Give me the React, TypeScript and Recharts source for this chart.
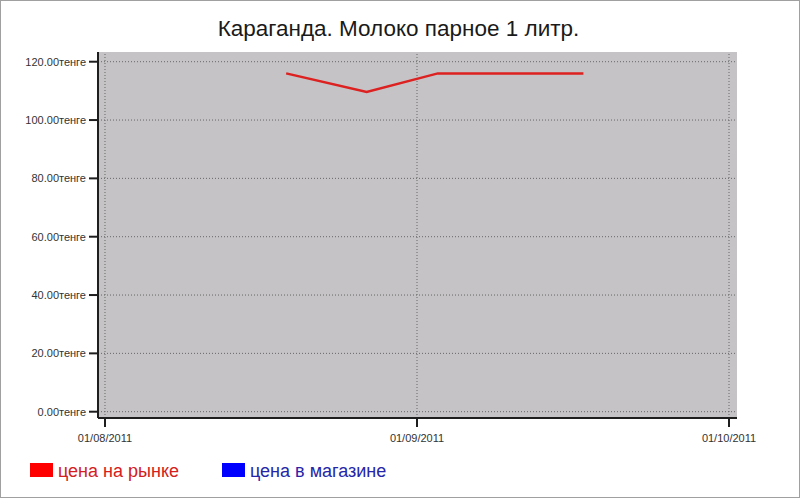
import React from 'react';
import { LineChart, Line, XAxis, YAxis, Legend, ReferenceArea, ReferenceLine } from 'recharts';

// ---- data ----
const dates = ['2011-08-19', '2011-08-27', '2011-09-03', '2011-09-10', '2011-09-17'];
const marketPrice = [116, 109.6, 116, 116, 116];
const shopPrice: (number | null)[] = [null, null, null, null, null];

const xTickDates = ['2011-08-01', '2011-09-01', '2011-10-01'];
const xTickLabels = ['01/08/2011', '01/09/2011', '01/10/2011'];
const yMajorTicks = [0, 20, 40, 60, 80, 100, 120];
const yMinorTicks = [0, 5, 10, 15, 20, 25, 30, 35, 40, 45, 50, 55, 60, 65, 70, 75, 80, 85, 90, 95, 100, 105, 110, 115, 120];

const seriesKeys = ['market', 'shop'];
const seriesNames: Record<string, string> = { market: 'цена на рынке', shop: 'цена в магазине' };
const title = 'Караганда. Молоко парное 1 литр.';

const xDomain: [number, number] = [-0.0224, 2.0256];
const yDomain: [number, number] = [-2.16, 123.33];

// month-based position: months since Aug 2011 + fraction of month
const toMonthPos = (iso: string) => {
  const [y, m, d] = iso.split('-').map(Number);
  const daysInMonth = new Date(y, m, 0).getDate();
  return (y - 2011) * 12 + (m - 8) + (d - 1) / daysInMonth;
};

const data = dates.map((d, i) => ({
  x: toMonthPos(d),
  market: marketPrice[i],
  shop: shopPrice[i],
}));
const xTicks = xTickDates.map(toMonthPos);

const FONT = '"Liberation Sans", Arial, sans-serif';
const GRID = { stroke: '#666', strokeDasharray: '1 2', strokeWidth: 1 };

const lineColors: Record<string, string> = { market: '#dd2020', shop: '#0000ff' };
const swatchColors: Record<string, string> = { market: '#ff0000', shop: '#0000ff' };
const legendTextColors: Record<string, string> = { market: '#d42020', shop: '#2626a8' };

const LegendContent = (props: any) => {
  const payload = props.payload || [];
  const lefts = [30, 222];
  const items = seriesKeys
    .map((k) => payload.find((p: any) => p.dataKey === k))
    .filter(Boolean);
  return (
    <div style={{ position: 'relative', width: 800, height: 24 }}>
      {items.map((p: any, i: number) => (
        <div key={p.dataKey} style={{ position: 'absolute', left: lefts[i], top: 0 }}>
          <div
            style={{
              position: 'absolute',
              left: 0,
              top: 3,
              width: 23,
              height: 14,
              background: swatchColors[p.dataKey] || p.color,
            }}
          />
          <div
            style={{
              position: 'absolute',
              left: 28,
              top: 2,
              whiteSpace: 'nowrap',
              fontFamily: FONT,
              fontSize: 18,
              lineHeight: '18px',
              color: legendTextColors[p.dataKey] || p.color,
            }}
          >
            {p.value}
          </div>
        </div>
      ))}
    </div>
  );
};

export default function App() {
  return (
    <div
      style={{
        position: 'absolute',
        left: 0,
        top: 0,
        width: 800,
        height: 498,
        background: '#fff',
        overflow: 'hidden',
      }}
    >
      <LineChart
        width={800}
        height={498}
        data={data}
        margin={{ top: 52, right: 63, bottom: 0, left: 0 }}
      >
        <ReferenceArea
          yAxisId="major"
          x1={xDomain[0]}
          x2={xDomain[1]}
          y1={yDomain[0]}
          y2={yDomain[1]}
          fill="#c5c3c6"
          fillOpacity={1}
          stroke="none"
          ifOverflow="hidden"
        />
        {yMajorTicks.map((v) => (
          <ReferenceLine key={`gy${v}`} yAxisId="major" y={v} {...GRID} />
        ))}
        {xTicks.map((v) => (
          <ReferenceLine key={`gx${v}`} yAxisId="major" x={v} {...GRID} />
        ))}
        <XAxis
          dataKey="x"
          type="number"
          domain={xDomain}
          ticks={xTicks}
          tickFormatter={(v: number) => xTickLabels[xTicks.indexOf(v)] ?? ''}
          height={80}
          tickSize={9}
          tickMargin={7}
          axisLine={{ stroke: '#1e1e1e', strokeWidth: 2 }}
          tickLine={{ stroke: '#1e1e1e', strokeWidth: 2 }}
          tick={{ fill: '#333', fontSize: 11, fontFamily: FONT }}
          allowDataOverflow
        />
        <YAxis
          yAxisId="major"
          type="number"
          domain={yDomain}
          ticks={yMajorTicks}
          tickFormatter={(v: number) => `${v.toFixed(2)}тенге`}
          width={98}
          tickSize={9}
          tickMargin={3}
          axisLine={{ stroke: '#1e1e1e', strokeWidth: 2 }}
          tickLine={{ stroke: '#1e1e1e', strokeWidth: 2 }}
          tick={{ fill: '#333', fontSize: 11, fontFamily: FONT }}
          allowDataOverflow
          interval={0}
        />
        <YAxis
          yAxisId="minor"
          type="number"
          domain={yDomain}
          ticks={yMinorTicks}
          width={0}
          tickSize={6}
          tick={false}
          axisLine={false}
          tickLine={{ stroke: '#1e1e1e', strokeWidth: 1.5 }}
          allowDataOverflow
          interval={0}
        />
        {seriesKeys.map((k) => (
          <Line
            key={k}
            yAxisId="major"
            dataKey={k}
            name={seriesNames[k]}
            stroke={lineColors[k]}
            strokeWidth={2.5}
            dot={false}
            activeDot={false}
            isAnimationActive={false}
          />
        ))}
        <Legend
          layout="horizontal"
          verticalAlign="middle"
          align="center"
          wrapperStyle={{ top: 460, left: 0, width: 800 }}
          content={<LegendContent />}
        />
      </LineChart>
      <div
        style={{
          position: 'absolute',
          left: 0,
          top: 18,
          width: 797,
          textAlign: 'center',
          fontFamily: FONT,
          fontSize: 22.5,
          lineHeight: '22.5px',
          color: '#1a1a1a',
          whiteSpace: 'nowrap',
        }}
      >
        {title}
      </div>
      <div
        style={{
          position: 'absolute',
          left: 0,
          top: 0,
          width: 800,
          height: 498,
          boxSizing: 'border-box',
          border: '1px solid #a0a0a0',
          pointerEvents: 'none',
        }}
      />
    </div>
  );
}
